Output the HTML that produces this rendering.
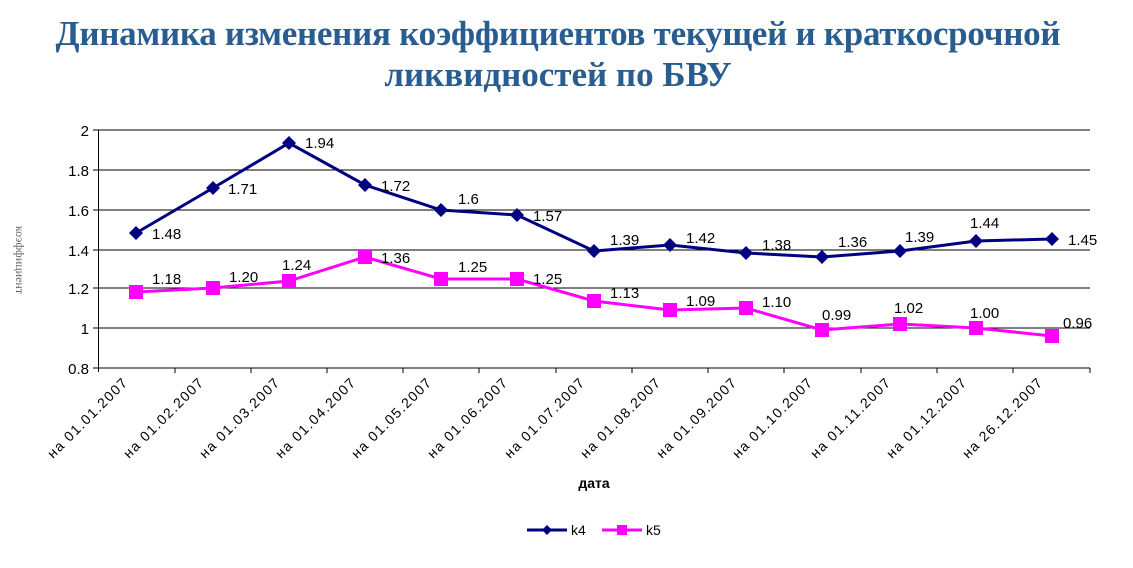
<!DOCTYPE html>
<html><head><meta charset="utf-8"><style>
body{margin:0;background:#fff;width:1133px;height:563px;overflow:hidden}
</style></head><body>
<svg width="1133" height="563" xmlns="http://www.w3.org/2000/svg" font-family="Liberation Sans, sans-serif">
<text x="558" y="45" text-anchor="middle" font-family="Liberation Serif, serif" font-weight="bold" font-size="35" fill="#2a5d8f" textLength="1005">Динамика изменения коэффициентов текущей и краткосрочной</text>
<text x="558" y="86" text-anchor="middle" font-family="Liberation Serif, serif" font-weight="bold" font-size="35" fill="#2a5d8f">ликвидностей по БВУ</text>
<g stroke="#000" stroke-width="1">
<line x1="98" y1="130" x2="1090" y2="130"/><line x1="98" y1="170" x2="1090" y2="170"/>
<line x1="98" y1="210" x2="1090" y2="210"/><line x1="98" y1="250" x2="1090" y2="250"/>
<line x1="98" y1="288" x2="1090" y2="288"/><line x1="98" y1="328" x2="1090" y2="328"/>
<line x1="98" y1="368" x2="1090" y2="368"/><line x1="98.5" y1="130" x2="98.5" y2="372"/>
<line x1="93" y1="130" x2="98" y2="130"/><line x1="93" y1="170" x2="98" y2="170"/><line x1="93" y1="210" x2="98" y2="210"/><line x1="93" y1="250" x2="98" y2="250"/><line x1="93" y1="288" x2="98" y2="288"/><line x1="93" y1="328" x2="98" y2="328"/><line x1="93" y1="368" x2="98" y2="368"/>
</g>
<g stroke="#000">
<line x1="175" y1="368" x2="175" y2="373"/><line x1="251" y1="368" x2="251" y2="373"/><line x1="327" y1="368" x2="327" y2="373"/><line x1="403" y1="368" x2="403" y2="373"/><line x1="479" y1="368" x2="479" y2="373"/><line x1="556" y1="368" x2="556" y2="373"/><line x1="632" y1="368" x2="632" y2="373"/><line x1="708" y1="368" x2="708" y2="373"/><line x1="784" y1="368" x2="784" y2="373"/><line x1="861" y1="368" x2="861" y2="373"/><line x1="937" y1="368" x2="937" y2="373"/><line x1="1013" y1="368" x2="1013" y2="373"/><line x1="1090" y1="368" x2="1090" y2="373"/>
</g>
<g font-size="15" text-anchor="end" fill="#000">
<text x="89" y="136">2</text><text x="89" y="176">1.8</text><text x="89" y="216">1.6</text><text x="89" y="256">1.4</text><text x="89" y="294">1.2</text><text x="89" y="334">1</text><text x="89" y="374">0.8</text>
</g>
<text transform="translate(16,260) rotate(90)" text-anchor="middle" font-family="Liberation Serif, serif" font-size="12" fill="#666">коэффициент</text>
<g font-size="14" text-anchor="end" fill="#000">
<text transform="translate(128,384) rotate(-45)" textLength="106">на 01.01.2007</text>
<text transform="translate(204,384) rotate(-45)" textLength="106">на 01.02.2007</text>
<text transform="translate(280,384) rotate(-45)" textLength="106">на 01.03.2007</text>
<text transform="translate(356,384) rotate(-45)" textLength="106">на 01.04.2007</text>
<text transform="translate(432,384) rotate(-45)" textLength="106">на 01.05.2007</text>
<text transform="translate(508,384) rotate(-45)" textLength="106">на 01.06.2007</text>
<text transform="translate(585,384) rotate(-45)" textLength="106">на 01.07.2007</text>
<text transform="translate(661,384) rotate(-45)" textLength="106">на 01.08.2007</text>
<text transform="translate(737,384) rotate(-45)" textLength="106">на 01.09.2007</text>
<text transform="translate(813,384) rotate(-45)" textLength="106">на 01.10.2007</text>
<text transform="translate(891,384) rotate(-45)" textLength="106">на 01.11.2007</text>
<text transform="translate(967,384) rotate(-45)" textLength="106">на 01.12.2007</text>
<text transform="translate(1043,384) rotate(-45)" textLength="106">на 26.12.2007</text>
</g>
<text x="594" y="488" text-anchor="middle" font-size="14" font-weight="bold">дата</text>
<polyline fill="none" stroke="#000080" stroke-width="3" points="136,233 213,188 289,143 365,185 441,210 517,215 594,251 670,245 746,253 822,257 900,251 976,241 1052,239"/>
<polyline fill="none" stroke="#ff00ff" stroke-width="3" points="136,292 213,288 289,281 365,257 441,279 517,279 594,301 670,310 746,308 822,330 900,324 976,328 1052,336"/>
<g fill="#000080">
<path d="M136,226l7,7l-7,7l-7,-7z"/><path d="M213,181l7,7l-7,7l-7,-7z"/><path d="M289,136l7,7l-7,7l-7,-7z"/><path d="M365,178l7,7l-7,7l-7,-7z"/><path d="M441,203l7,7l-7,7l-7,-7z"/><path d="M517,208l7,7l-7,7l-7,-7z"/><path d="M594,244l7,7l-7,7l-7,-7z"/><path d="M670,238l7,7l-7,7l-7,-7z"/><path d="M746,246l7,7l-7,7l-7,-7z"/><path d="M822,250l7,7l-7,7l-7,-7z"/><path d="M900,244l7,7l-7,7l-7,-7z"/><path d="M976,234l7,7l-7,7l-7,-7z"/><path d="M1052,232l7,7l-7,7l-7,-7z"/>
</g>
<g fill="#ff00ff">
<rect x="129" y="285" width="14" height="14"/><rect x="206" y="281" width="14" height="14"/><rect x="282" y="274" width="14" height="14"/><rect x="358" y="250" width="14" height="14"/><rect x="434" y="272" width="14" height="14"/><rect x="510" y="272" width="14" height="14"/><rect x="587" y="294" width="14" height="14"/><rect x="663" y="303" width="14" height="14"/><rect x="739" y="301" width="14" height="14"/><rect x="815" y="323" width="14" height="14"/><rect x="893" y="317" width="14" height="14"/><rect x="969" y="321" width="14" height="14"/><rect x="1045" y="329" width="14" height="14"/>
</g>
<g font-size="15" fill="#000">
<text x="152" y="239">1.48</text><text x="228" y="194">1.71</text><text x="305" y="148">1.94</text><text x="381" y="191">1.72</text><text x="458" y="204">1.6</text><text x="533" y="221">1.57</text><text x="610" y="245">1.39</text><text x="686" y="243">1.42</text><text x="762" y="250">1.38</text><text x="838" y="247">1.36</text><text x="905" y="242">1.39</text><text x="970" y="228">1.44</text><text x="1068" y="245">1.45</text>
<text x="152" y="284">1.18</text><text x="229" y="282">1.20</text><text x="282" y="270">1.24</text><text x="381" y="263">1.36</text><text x="458" y="272">1.25</text><text x="533" y="284">1.25</text><text x="610" y="298">1.13</text><text x="686" y="306">1.09</text><text x="762" y="307">1.10</text><text x="822" y="320">0.99</text><text x="894" y="313">1.02</text><text x="970" y="318">1.00</text><text x="1063" y="328">0.96</text>
</g>
<line x1="527" y1="530" x2="567" y2="530" stroke="#000080" stroke-width="3"/>
<path d="M547,525l5,5l-5,5l-5,-5z" fill="#000080"/>
<text x="571" y="535" font-size="14">k4</text>
<line x1="602" y1="530" x2="642" y2="530" stroke="#ff00ff" stroke-width="3"/>
<rect x="617" y="525" width="10" height="10" fill="#ff00ff"/>
<text x="646" y="535" font-size="14">k5</text>
</svg>
</body></html>
